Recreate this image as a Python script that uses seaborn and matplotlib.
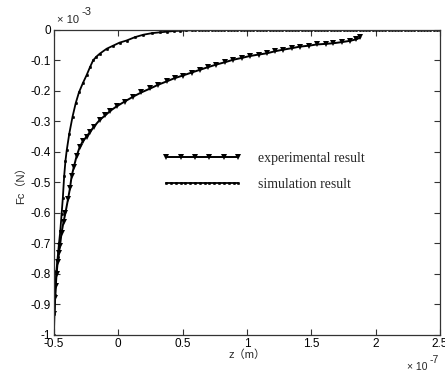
import numpy as np
import pandas as pd
import seaborn as sns
import matplotlib
matplotlib.use("Agg")
import matplotlib.pyplot as plt
from matplotlib.legend_handler import HandlerLine2D

# ---- data (x in 1e-7 m, y in 1e-3 N) ----
sim_x = [-0.5, -0.495, -0.49, -0.48, -0.47, -0.46, -0.45, -0.44, -0.43, -0.42,
         -0.41, -0.40, -0.38, -0.355, -0.33, -0.305, -0.275, -0.245, -0.22, -0.195,
         -0.17, -0.143, -0.09, -0.04, 0.01, 0.065, 0.13, 0.195, 0.26, 0.325,
         0.38, 0.43, 0.48, 0.53, 0.575, 0.6, 0.625,
         0.65, 0.675, 0.7, 0.725, 0.75, 0.775, 0.8, 0.825, 0.85, 0.875,
         0.9, 0.925, 0.95, 0.975, 1.0, 1.025, 1.05, 1.075, 1.1, 1.125,
         1.15, 1.175, 1.2, 1.225, 1.25, 1.275, 1.3, 1.325, 1.35, 1.375,
         1.4, 1.425, 1.45, 1.475, 1.5, 1.525, 1.55, 1.575, 1.6, 1.625,
         1.65, 1.675, 1.7, 1.725, 1.75, 1.775, 1.8, 1.825, 1.85, 1.875,
         1.9, 1.925, 1.95, 1.975, 2.0, 2.025, 2.05, 2.075, 2.1, 2.125,
         2.15, 2.175, 2.2, 2.225, 2.25, 2.275, 2.3, 2.325, 2.35, 2.375,
         2.4, 2.425, 2.45, 2.475, 2.5]
sim_y = [-1.0, -0.93, -0.87, -0.79, -0.745, -0.70, -0.66, -0.605, -0.55, -0.48,
         -0.43, -0.395, -0.34, -0.285, -0.24, -0.205, -0.175, -0.148, -0.123, -0.10,
         -0.088, -0.078, -0.062, -0.052, -0.042, -0.035, -0.024, -0.016, -0.011, -0.008,
         -0.006, -0.004, -0.003, -0.002, -0.0015, -0.001, -0.001,
         -0.0008, -0.0006, -0.0005, -0.0004, -0.0003, -0.0003, -0.0002, -0.0002, -0.0002, -0.0001,
         -0.0001, -0.0001, -0.0001, 0.0, 0.0, 0.0, 0.0, 0.0, 0.0, 0.0,
         0.0, 0.0, 0.0, 0.0, 0.0, 0.0, 0.0, 0.0, 0.0, 0.0,
         0.0, 0.0, 0.0, 0.0, 0.0, 0.0, 0.0, 0.0, 0.0, 0.0,
         0.0, 0.0, 0.0, 0.0, 0.0, 0.0, 0.0, 0.0, 0.0, 0.0,
         0.0, 0.0, 0.0, 0.0, 0.0, 0.0, 0.0, 0.0, 0.0, 0.0,
         0.0, 0.0, 0.0, 0.0, 0.0, 0.0, 0.0, 0.0, 0.0, 0.0,
         0.0, 0.0, 0.0, 0.0, 0.0]

exp_x = [-0.495, -0.49, -0.485, -0.479, -0.47, -0.46, -0.453, -0.44, -0.425, -0.41,
         -0.39, -0.375, -0.362, -0.345, -0.324, -0.30, -0.275, -0.246, -0.22, -0.19,
         -0.143, -0.10, -0.06, -0.013, 0.05, 0.116, 0.18, 0.25, 0.31, 0.376,
         0.44, 0.50, 0.57, 0.634, 0.70, 0.76, 0.83, 0.893, 0.96, 1.02,
         1.09, 1.153, 1.22, 1.28, 1.35, 1.41, 1.48, 1.54, 1.61, 1.67,
         1.74, 1.80, 1.85, 1.88]
exp_y = [-0.93, -0.88, -0.84, -0.80, -0.76, -0.73, -0.71, -0.665, -0.63, -0.60,
         -0.555, -0.52, -0.48, -0.45, -0.415, -0.385, -0.365, -0.35, -0.335, -0.318,
         -0.295, -0.28, -0.265, -0.251, -0.235, -0.219, -0.205, -0.192, -0.18, -0.169,
         -0.158, -0.15, -0.14, -0.131, -0.122, -0.114, -0.106, -0.098, -0.092, -0.086,
         -0.081, -0.077, -0.070, -0.065, -0.060, -0.055, -0.052, -0.048, -0.046, -0.044,
         -0.040, -0.036, -0.031, -0.025]

x_ticks = [-0.5, 0, 0.5, 1, 1.5, 2, 2.5]
x_tick_labels = ["-0.5", "0", "0.5", "1", "1.5", "2", "2.5"]
y_ticks = [-1, -0.9, -0.8, -0.7, -0.6, -0.5, -0.4, -0.3, -0.2, -0.1, 0]
y_tick_labels = ["-1", "-0.9", "-0.8", "-0.7", "-0.6", "-0.5", "-0.4", "-0.3", "-0.2", "-0.1", "0"]
labels = ["experimental result", "simulation result"]

sns.set_style("ticks")
plt.rcParams['font.family'] = ['Liberation Sans', 'Noto Sans CJK SC', 'DejaVu Sans']

fig = plt.figure(figsize=(4.45, 3.73), dpi=100)
ax = fig.add_axes([0.121, 0.102, 0.868, 0.818])

df_exp = pd.DataFrame({"x": exp_x, "y": exp_y})
df_sim = pd.DataFrame({"x": sim_x, "y": sim_y})

sns.lineplot(data=df_exp, x="x", y="y", ax=ax, color="black", linewidth=1.4,
             marker="v", markersize=4.8, markeredgewidth=0, markeredgecolor="black",
             sort=False, estimator=None, label=labels[0])
sns.lineplot(data=df_sim, x="x", y="y", ax=ax, color="black", linewidth=1.3,
             marker=".", markersize=3.5, markeredgewidth=0.4, markeredgecolor="black",
             sort=False, estimator=None, label=labels[1])

ax.set_xlim(-0.5, 2.5)
ax.set_ylim(-1, 0)
ax.set_xticks(x_ticks)
ax.set_xticklabels(x_tick_labels)
ax.set_yticks(y_ticks)
ax.set_yticklabels(y_tick_labels)
ax.tick_params(direction="in", length=4, width=0.8, top=True, right=True,
               labelsize=8.5, colors="#333333", labelcolor="black", pad=2)
for s in ax.spines.values():
    s.set_visible(True)
    s.set_linewidth(0.9)
    s.set_color("#333333")

ax.set_xlabel("z（m）", fontsize=8, labelpad=0)
ax.set_ylabel("Fc（N）", fontsize=8, labelpad=3)

fig.text(0.128, 0.933, "× 10", fontsize=8, ha="left", va="bottom")
fig.text(0.183, 0.954, "-3", fontsize=8, ha="left", va="bottom")
fig.text(0.915, 0.002, "× 10", fontsize=7.5, ha="left", va="bottom")
fig.text(0.966, 0.022, "-7", fontsize=7.5, ha="left", va="bottom")

l_exp, l_sim = ax.lines[0], ax.lines[1]
leg = ax.legend(handles=[l_exp, l_sim], labels=labels, loc="center left",
                bbox_to_anchor=(0.28, 0.536), frameon=False, borderpad=0,
                borderaxespad=0, handlelength=5.8, handletextpad=1.1,
                labelspacing=0.95,
                prop={"family": "Liberation Serif", "size": 10},
                handler_map={l_exp: HandlerLine2D(numpoints=6),
                             l_sim: HandlerLine2D(numpoints=16)})

fig.savefig("out.png", dpi=100, facecolor="white")
